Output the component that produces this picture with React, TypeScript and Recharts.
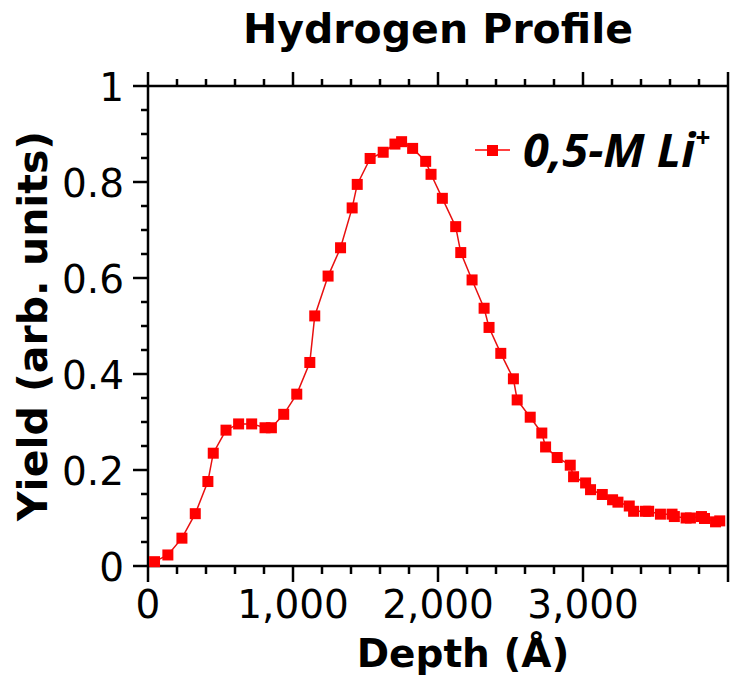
import { Label, Legend, Line, LineChart, XAxis, YAxis } from 'recharts';

// depth (Å) and yield (arb. units), read point by point from the profile
const depths = [
  45, 137, 234, 326, 413, 450, 538, 625, 715, 807, 851, 936, 1026, 1116, 1150,
  1242, 1328, 1408, 1443, 1532, 1622, 1703, 1749, 1825, 1915, 1952, 2030, 2122,
  2157, 2235, 2318, 2352, 2433, 2520, 2546, 2636, 2716, 2742, 2822, 2912, 2935,
  3018, 3052, 3133, 3204, 3241, 3319, 3349, 3430, 3453, 3534, 3614, 3630, 3711,
  3741, 3817, 3838, 3914, 3943,
];
const yields = [
  0.009, 0.023, 0.058, 0.109, 0.176, 0.235, 0.283, 0.296, 0.296, 0.288, 0.288,
  0.316, 0.358, 0.424, 0.521, 0.604, 0.663, 0.746, 0.795, 0.849, 0.862, 0.879,
  0.884, 0.87, 0.843, 0.816, 0.766, 0.707, 0.653, 0.596, 0.537, 0.497, 0.443,
  0.39, 0.346, 0.31, 0.277, 0.248, 0.226, 0.21, 0.186, 0.173, 0.159, 0.149,
  0.138, 0.133, 0.125, 0.114, 0.114, 0.114, 0.108, 0.108, 0.103, 0.1, 0.1,
  0.103, 0.099, 0.092, 0.094,
];

const xTicks = [
  0, 200, 400, 600, 800, 1000, 1200, 1400, 1600, 1800, 2000, 2200, 2400, 2600,
  2800, 3000, 3200, 3400, 3600, 3800, 4000,
];
const xLabelled = [0, 1000, 2000, 3000];
const yTicks = [
  0, 0.05, 0.1, 0.15, 0.2, 0.25, 0.3, 0.35, 0.4, 0.45, 0.5, 0.55, 0.6, 0.65,
  0.7, 0.75, 0.8, 0.85, 0.9, 0.95, 1,
];
const yLabels: Record<string, string> = {
  '0': '0', '0.2': '0.2', '0.4': '0.4', '0.6': '0.6', '0.8': '0.8', '1': '1',
};

const seriesName = '0,5-M Li';
const title = 'Hydrogen Profile';
const xTitle = 'Depth (Å)';
const yTitle = 'Yield (arb. units)';

const data = depths.map((d, i) => ({ depth: d, yield: yields[i] }));

const FONT = '"DejaVu Sans", sans-serif';
const RED = '#ff0000';
const AXIS = { stroke: '#000', strokeWidth: 2.5 };

const isMajorX = (v: number) => v % 1000 === 0;
const isMajorY = (v: number) => Math.abs(v * 5 - Math.round(v * 5)) < 1e-6;

function BottomTick({ x, y, payload }: any) {
  const v = payload.value as number;
  const major = isMajorX(v);
  return (
    <g>
      <line x1={x} x2={x} y1={y} y2={y + (major ? 16 : 8)} {...AXIS} />
      {xLabelled.includes(v) && (
        <text x={x} y={y + 52} textAnchor="middle" fontSize={39} fontFamily={FONT} fill="#000">
          {v.toLocaleString('en-US')}
        </text>
      )}
    </g>
  );
}

function TopTick({ x, y, payload }: any) {
  const major = isMajorX(payload.value);
  return <line x1={x} x2={x} y1={y} y2={y - (major ? 14 : 7)} {...AXIS} />;
}

function LeftTick({ x, y, payload }: any) {
  const v = payload.value as number;
  const major = isMajorY(v);
  const label = yLabels[String(+v.toFixed(2))];
  return (
    <g>
      <line x1={x} x2={x - (major ? 15 : 7)} y1={y} y2={y} {...AXIS} />
      {major && label && (
        <text x={x - 24} y={y + 15} textAnchor="end" fontSize={39} fontFamily={FONT} fill="#000">
          {label}
        </text>
      )}
    </g>
  );
}

function RightTick({ x, y, payload }: any) {
  const major = isMajorY(payload.value);
  return <line x1={x} x2={x + (major ? 14 : 7)} y1={y} y2={y} {...AXIS} />;
}

function SquareDot({ cx, cy }: any) {
  if (cx == null || cy == null) return null;
  return <rect x={cx - 5.5} y={cy - 5.5} width={11} height={11} fill={RED} />;
}

function LegendBox() {
  return (
    <svg width={270} height={90} style={{ display: 'block', overflow: 'visible' }}>
      <line x1={15} x2={50} y1={40} y2={40} stroke={RED} strokeWidth={1.5} />
      <rect x={27} y={35} width={11} height={11} fill={RED} />
      <text
        x={63}
        y={57}
        fontFamily='"Open Sans", sans-serif'
        fontWeight="bold"
        fontStyle="italic"
        fontSize={47}
        fill="#000"
      >
        {seriesName}
        <tspan fontSize={26} dy={-20}>+</tspan>
      </text>
    </svg>
  );
}

export default function App() {
  return (
    <div style={{ position: 'absolute', left: 0, top: 0, width: 734, height: 681, background: '#fff' }}>
      <LineChart
        width={734}
        height={681}
        data={data}
        margin={{ top: 76, right: 0, bottom: 55, left: 88 }}
      >
        <XAxis
          xAxisId="bottom"
          dataKey="depth"
          type="number"
          domain={[0, 4000]}
          ticks={xTicks}
          interval={0}
          height={60}
          tickSize={0}
          tickMargin={0}
          tickLine={false}
          axisLine={AXIS}
          tick={<BottomTick />}
        >
          <Label
            content={({ viewBox }: any) => (
              <text
                x={viewBox.x + viewBox.width / 2 + 25}
                y={viewBox.y + 101}
                textAnchor="middle"
                fontSize={39}
                fontWeight="bold"
                fontFamily={FONT}
                fill="#000"
              >
                {xTitle}
              </text>
            )}
          />
        </XAxis>
        <XAxis
          xAxisId="top"
          orientation="top"
          dataKey="depth"
          type="number"
          domain={[0, 4000]}
          ticks={xTicks}
          interval={0}
          height={10}
          tickSize={0}
          tickMargin={0}
          tickLine={false}
          axisLine={AXIS}
          tick={<TopTick />}
        >
          <Label
            content={({ viewBox }: any) => (
              <text
                x={viewBox.x + viewBox.width / 2}
                y={viewBox.y - 33}
                textAnchor="middle"
                fontSize={41}
                fontWeight="bold"
                fontFamily={FONT}
                fill="#000"
              >
                {title}
              </text>
            )}
          />
        </XAxis>
        <YAxis
          yAxisId="left"
          type="number"
          domain={[0, 1]}
          ticks={yTicks}
          interval={0}
          width={60}
          tickSize={0}
          tickMargin={0}
          tickLine={false}
          axisLine={AXIS}
          tick={<LeftTick />}
        >
          <Label
            content={({ viewBox }: any) => {
              const cx = viewBox.x - 41;
              const cy = viewBox.y + viewBox.height / 2;
              return (
                <text
                  x={cx}
                  y={cy}
                  transform={`rotate(-90 ${cx} ${cy})`}
                  textAnchor="middle"
                  fontSize={41}
                  fontWeight="bold"
                  fontFamily={FONT}
                  fill="#000"
                >
                  {yTitle}
                </text>
              );
            }}
          />
        </YAxis>
        <YAxis
          yAxisId="right"
          orientation="right"
          type="number"
          domain={[0, 1]}
          ticks={yTicks}
          interval={0}
          width={6}
          tickSize={0}
          tickMargin={0}
          tickLine={false}
          axisLine={AXIS}
          tick={<RightTick />}
        />
        <Legend
          layout="vertical"
          align="center"
          verticalAlign="middle"
          wrapperStyle={{ position: 'absolute', left: 460, top: 110, width: 270 }}
          content={() => <LegendBox />}
        />
        <Line
          xAxisId="bottom"
          yAxisId="left"
          type="linear"
          dataKey="yield"
          name={seriesName}
          stroke="#e81010"
          strokeWidth={1.5}
          dot={<SquareDot />}
          activeDot={false}
          isAnimationActive={false}
        />
      </LineChart>
    </div>
  );
}
